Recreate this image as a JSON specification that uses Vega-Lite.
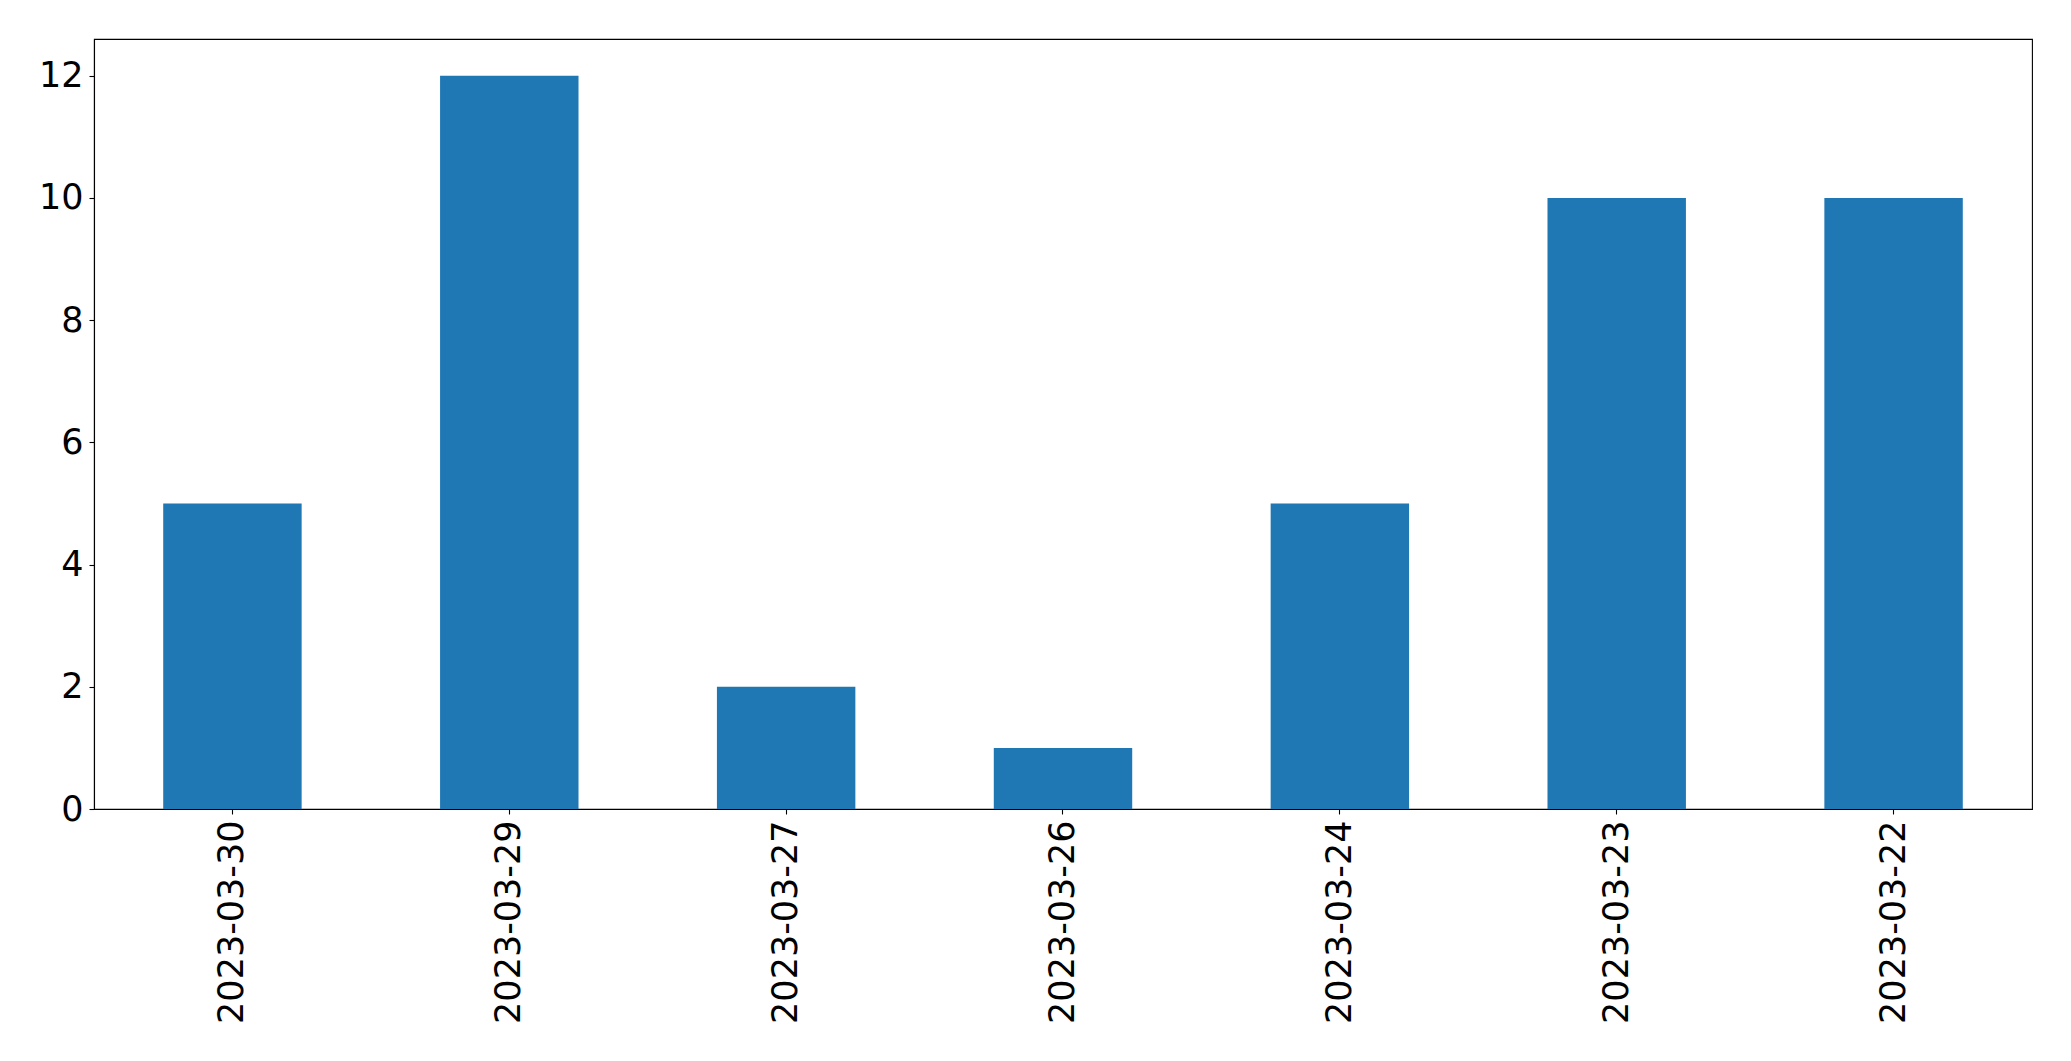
{
  "$schema": "https://vega.github.io/schema/vega-lite/v6.json",
  "autosize": {"type": "none"},
  "padding": {"left": 94, "top": 39, "right": 39, "bottom": 252},
  "width": 1938,
  "height": 770,
  "background": "white",
  "config": {
    "view": {"stroke": "#000000", "strokeWidth": 1.1},
    "font": "DejaVu Sans",
    "axis": {
      "labelFont": "DejaVu Sans",
      "labelFontSize": 35,
      "labelColor": "#000000",
      "labelLimit": 400,
      "tickColor": "#000000",
      "tickSize": 5,
      "tickWidth": 1.1,
      "domainColor": "#000000",
      "domainWidth": 1.1,
      "grid": false,
      "title": null
    }
  },
  "data": {
    "values": [
      {"date": "2023-03-30", "count": 5},
      {"date": "2023-03-29", "count": 12},
      {"date": "2023-03-27", "count": 2},
      {"date": "2023-03-26", "count": 1},
      {"date": "2023-03-24", "count": 5},
      {"date": "2023-03-23", "count": 10},
      {"date": "2023-03-22", "count": 10}
    ]
  },
  "mark": {"type": "bar", "color": "#1f77b4"},
  "encoding": {
    "x": {
      "field": "date",
      "type": "nominal",
      "sort": null,
      "scale": {"paddingInner": 0.5, "paddingOuter": 0.25},
      "axis": {"labelAngle": -90, "labelPadding": 6}
    },
    "y": {
      "field": "count",
      "type": "quantitative",
      "scale": {"domain": [0, 12.6], "nice": false, "zero": true},
      "axis": {"values": [0, 2, 4, 6, 8, 10, 12], "labelPadding": 6}
    }
  }
}
